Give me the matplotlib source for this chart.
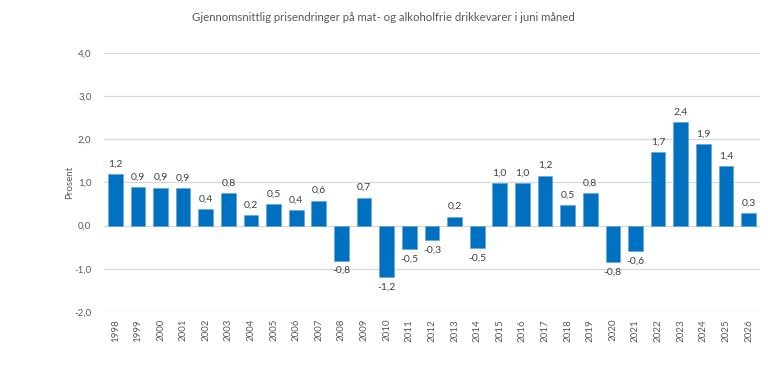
import numpy as np
import matplotlib.pyplot as plt

plt.rcParams['font.family'] = ['Lato', 'DejaVu Sans']

years = [str(y) for y in range(1998, 2027)]
values = [1.20, 0.90, 0.88, 0.86, 0.39, 0.76, 0.24, 0.49, 0.36, 0.58,
          -0.81, 0.65, -1.20, -0.54, -0.33, 0.21, -0.52, 0.99, 0.99, 1.16,
          0.47, 0.76, -0.84, -0.58, 1.71, 2.39, 1.89, 1.37, 0.29]

grey = '#595959'
fig = plt.figure(figsize=(7.68, 3.67), dpi=100)
ax = fig.add_axes([0.1354, 0.150, 0.854, 0.7057])

x = np.arange(len(years))
ax.bar(x, values, width=0.65, color='#0070C0', edgecolor='#5BA3DA', linewidth=0.4, zorder=3)

for xi, v in zip(x, values):
    lab = f'{v:.1f}'.replace('.', ',')
    if v >= 0:
        ax.annotate(lab, (xi, v), xytext=(0, 4), textcoords='offset points',
                    ha='center', va='bottom', fontsize=7.5, color='#404040')
    else:
        ax.annotate(lab, (xi, v), xytext=(0, -4), textcoords='offset points',
                    ha='center', va='top', fontsize=7.5, color='#404040')

ax.set_xlim(-0.5, len(years) - 0.5)
ax.set_ylim(-2.0, 4.0)
ax.set_yticks(np.arange(-2, 4.1, 1.0))
ax.set_yticklabels([f'{t:.1f}'.replace('.', ',') for t in np.arange(-2, 4.1, 1.0)])
ax.set_xticks(x)
ax.set_xticklabels(years, rotation=90)
ax.tick_params(axis='both', length=0, labelsize=7, colors=grey)
ax.tick_params(axis='y', pad=9)
ax.tick_params(axis='x', pad=5)
ax.grid(axis='y', color='#D9D9D9', linewidth=0.9, zorder=0)
for s in ax.spines.values():
    s.set_visible(False)

ax.set_ylabel('Prosent', fontsize=7, color=grey, labelpad=0)
fig.text(0.499, 0.953, 'Gjennomsnittlig prisendringer på mat- og alkoholfrie drikkevarer i juni måned',
         ha='center', va='center', fontsize=8.2, color=grey)

fig.savefig('out.png', dpi=100)
